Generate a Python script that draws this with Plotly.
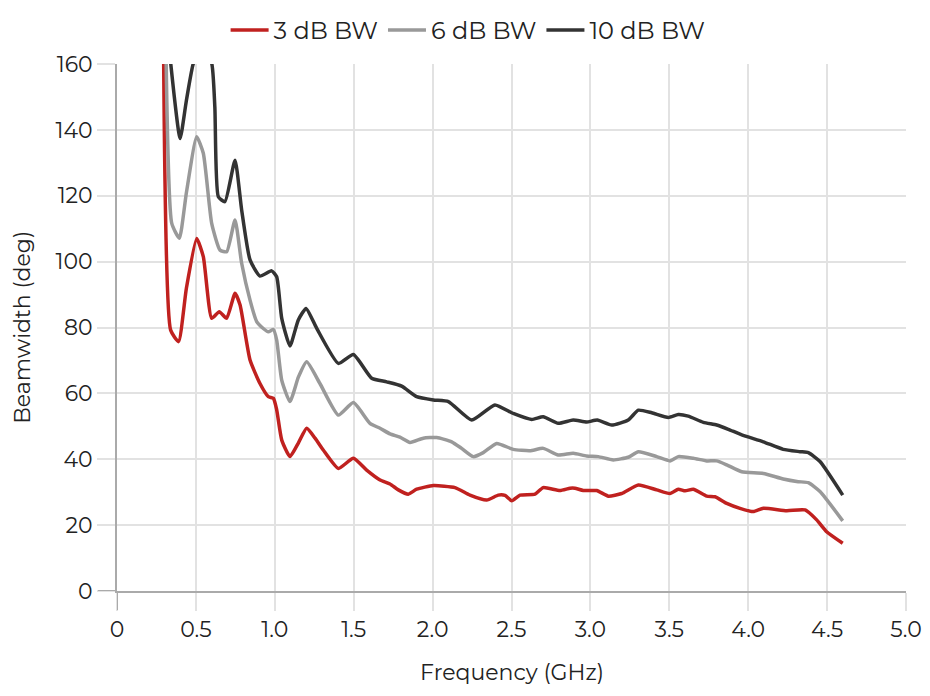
import plotly.graph_objects as go

# ---- data ----
freq_3db = [0.295, 0.34, 0.39, 0.44, 0.505, 0.547, 0.60, 0.648, 0.695, 0.748, 0.78, 0.843, 0.906,
            0.959, 0.991, 1.012, 1.044, 1.096, 1.15, 1.202, 1.255, 1.307, 1.403, 1.498, 1.582, 1.667,
            1.73, 1.783, 1.846, 1.899, 2.005, 2.142, 2.237, 2.343, 2.416, 2.459, 2.501, 2.554, 2.649,
            2.701, 2.807, 2.871, 2.902, 2.955, 3.04, 3.114, 3.198, 3.304, 3.42, 3.504, 3.557, 3.6,
            3.652, 3.737, 3.79, 3.864, 3.948, 4.032, 4.096, 4.244, 4.36, 4.434, 4.497, 4.599]
bw_3db = [165, 79.2, 75.7, 92, 107, 101.5, 82.8, 84.8, 82.8, 90.4, 86.8, 70.1, 63,
          59, 58.5, 55, 45.8, 40.8, 45, 49.4, 46.4, 42.8, 37.2, 40.3, 36.7, 33.7,
          32.5, 30.7, 29.4, 30.9, 32, 31.4, 29.1, 27.6, 29.1, 29, 27.4, 29.1, 29.4,
          31.4, 30.5, 31.2, 31.2, 30.5, 30.5, 28.8, 29.6, 32.2, 30.7, 29.6, 30.9, 30.4,
          30.9, 28.8, 28.6, 26.6, 25.1, 24.1, 25.1, 24.4, 24.6, 21.6, 18, 14.5]

freq_6db = [0.31, 0.347, 0.395, 0.44, 0.505, 0.547, 0.60, 0.653, 0.695, 0.748, 0.79, 0.843, 0.885,
            0.927, 0.959, 0.991, 1.012, 1.044, 1.096, 1.15, 1.202, 1.286, 1.403, 1.498, 1.603, 1.667,
            1.73, 1.793, 1.857, 1.941, 2.026, 2.121, 2.184, 2.258, 2.321, 2.406, 2.511, 2.617, 2.701,
            2.796, 2.891, 2.976, 3.05, 3.145, 3.24, 3.304, 3.42, 3.504, 3.557, 3.652, 3.737, 3.8,
            3.864, 3.959, 4.096, 4.222, 4.317, 4.381, 4.455, 4.599]
bw_6db = [165, 111.6, 107.1, 121, 137.9, 132.9, 111.6, 103.5, 103, 112.6, 99.5, 88.3, 81.8,
          79.7, 78.7, 79.4, 76.2, 64, 57.5, 65, 69.6, 63, 53.4, 57.2, 50.9, 49.4,
          47.7, 46.7, 45.1, 46.4, 46.6, 45.3, 43.3, 40.8, 42, 44.8, 43, 42.6, 43.3,
          41.3, 41.8, 41, 40.8, 39.8, 40.6, 42.3, 40.8, 39.5, 40.8, 40.3, 39.5, 39.5,
          38.3, 36.2, 35.7, 34, 33.2, 32.9, 30.2, 21.3]

freq_10db = [0.33, 0.40, 0.44, 0.484, 0.52, 0.56, 0.60, 0.62, 0.642, 0.684, 0.748, 0.79, 0.843,
             0.906, 0.98, 1.012, 1.044, 1.096, 1.149, 1.198, 1.265, 1.403, 1.498, 1.614, 1.709,
             1.804, 1.899, 2.005, 2.1, 2.248, 2.395, 2.511, 2.628, 2.701, 2.796, 2.891, 2.976,
             3.044, 3.135, 3.24, 3.304, 3.389, 3.494, 3.557, 3.62, 3.716, 3.8, 3.874, 3.959,
             4.096, 4.222, 4.328, 4.381, 4.455, 4.599]
bw_10db = [165, 137.4, 149, 160.2, 163, 163, 160.2, 147, 119.7, 118.2, 130.8, 115.7, 100.5,
           95.6, 97.2, 95.4, 82.8, 74.4, 82.3, 85.8, 79.8, 69.1, 71.8, 64.6, 63.5,
           62.2, 59, 58, 57.5, 51.9, 56.5, 53.9, 52.1, 52.9, 50.9, 51.9, 51.3,
           51.9, 50.4, 51.9, 54.9, 54.1, 52.7, 53.6, 53.1, 51.2, 50.4, 49.1, 47.4,
           45.3, 43, 42.3, 42, 39.3, 29.1]

x_ticks = [0, 0.5, 1.0, 1.5, 2.0, 2.5, 3.0, 3.5, 4.0, 4.5, 5.0]
x_tick_labels = ["0", "0.5", "1.0", "1.5", "2.0", "2.5", "3.0", "3.5", "4.0", "4.5", "5.0"]
y_ticks = [0, 20, 40, 60, 80, 100, 120, 140, 160]

series = [
    ("3 dB BW", freq_3db, bw_3db, "#c0211f"),
    ("6 dB BW", freq_6db, bw_6db, "#999999"),
    ("10 dB BW", freq_10db, bw_10db, "#333333"),
]

FONT = "Montserrat, Lato, 'Open Sans', sans-serif"
TXT = "#222222"
GRID = "#e2e2e2"
AXIS = "#aaaaaa"

fig = go.Figure()
for name, fx, fy, col in series:
    fig.add_trace(go.Scatter(
        x=fx, y=fy, name=name, mode="lines",
        line=dict(color=col, width=3.5, shape="spline", smoothing=0.5),
    ))

# page body has an 8px margin, so the figure is 8px smaller than the window
fig.update_layout(
    width=922, height=688,
    margin=dict(l=109, r=24, t=56, b=105, autoexpand=False),
    paper_bgcolor="white", plot_bgcolor="white",
    font=dict(family=FONT, size=22, color=TXT),
    legend=dict(orientation="h", x=0.445, xanchor="center", y=1.0, yanchor="top",
                yref="container", font=dict(size=24), itemwidth=38,
                traceorder="normal", tracegroupgap=0),
    showlegend=True,
)

fig.update_xaxes(
    range=[0, 5.0], tickvals=x_ticks, ticktext=x_tick_labels,
    showgrid=True, gridcolor=GRID, gridwidth=1.5,
    showline=True, linecolor=AXIS, linewidth=2,
    ticks="outside", ticklen=18, tickcolor=GRID, tickwidth=1.5,
    zeroline=False, automargin=False,
)
fig.update_yaxes(
    range=[0, 160], tickvals=y_ticks,
    showgrid=True, gridcolor=GRID, gridwidth=1.5,
    showline=True, linecolor=AXIS, linewidth=2,
    ticks="outside", ticklen=18, tickcolor=GRID, tickwidth=1.5,
    zeroline=False, automargin=False,
)

# darker tick extensions of the axis lines at the origin
fig.add_shape(type="line", xref="x", yref="paper", x0=0, x1=0, y0=0, y1=-0.036,
              line=dict(color=AXIS, width=2))
fig.add_shape(type="line", xref="paper", yref="y", x0=0, x1=-0.024, y0=0, y1=0,
              line=dict(color=AXIS, width=2))

# axis titles
fig.add_annotation(text="Frequency (GHz)", xref="paper", yref="paper", x=0.5, y=-0.155,
                   yanchor="middle", showarrow=False, font=dict(size=22, color=TXT))
fig.add_annotation(text="Beamwidth (deg)", xref="paper", yref="paper", x=-0.12, y=0.5,
                   xanchor="center", yanchor="middle", textangle=-90, showarrow=False,
                   font=dict(size=22, color=TXT))

fig.write_html("out.html")
